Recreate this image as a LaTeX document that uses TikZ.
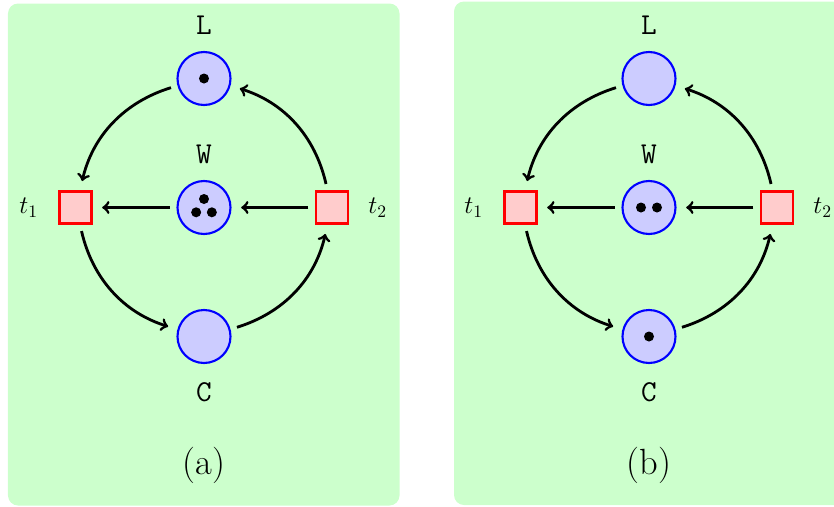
\documentclass[tikz,border=0pt]{standalone}
\usepackage{tikz}
\usetikzlibrary{positioning}

\tikzset{
  place/.style={circle, draw=blue, fill=blue!20, line width=1.2pt, minimum size=1.06cm, inner sep=0pt},
  trans/.style={rectangle, draw=red, fill=red!20, line width=1.2pt, minimum size=0.64cm, inner sep=0pt},
  flow/.style={->, line width=1.6pt, shorten <=3.8pt, shorten >=5.5pt},
  tag/.style={inner sep=0pt, font=\LARGE\ttfamily},
  tlabel/.style={inner sep=0pt, font=\Large},
  panel/.style={fill=green!20, rounded corners=0.2cm},
}

\begin{document}
\begin{tikzpicture}
  \useasboundingbox (-4.08,-5.97) rectangle (12.6,4.15);

  % background panels
  \fill[panel] (-3.92,-5.96) rectangle (3.91,4.08);
  \fill[panel] (5.0,-5.95) rectangle (12.82,4.12);

  % net (a)
  \node[place] (La) at (0,2.58) {};
  \node[place] (Wa) at (0,0) {};
  \node[place] (Ca) at (0,-2.58) {};
  \node[trans] (t1a) at (-2.57,0) {};
  \node[trans] (t2a) at (2.56,0) {};

  \node[tag, above=0.32cm of La] {L};
  \node[tag, above=0.32cm of Wa] {W};
  \node[tag, below=0.36cm of Ca] {C};
  \node[tlabel, left=0.4cm of t1a] {$t_1$};
  \node[tlabel, right=0.38cm of t2a] {$t_2$};

  % tokens (a)
  \fill (La.center) circle[radius=0.1];
  \fill ([yshift=0.17cm]Wa.center) circle[radius=0.1];
  \fill ([xshift=-0.157cm, yshift=-0.096cm]Wa.center) circle[radius=0.1];
  \fill ([xshift=0.157cm, yshift=-0.096cm]Wa.center) circle[radius=0.1];

  \draw[flow] (La) to[bend right=30] (t1a);
  \draw[flow] (t1a) to[bend right=30] (Ca);
  \draw[flow] (Ca) to[bend right=30] (t2a);
  \draw[flow] (t2a) to[bend right=30] (La);
  \draw[flow] (t2a) -- (Wa);
  \draw[flow] (Wa) -- (t1a);

  \node[font=\huge] (capa) at (0,-5.15) {(a)};

  % net (b)
  \node[place] (Lb) at (8.9,2.58) {};
  \node[place] (Wb) at (8.9,0) {};
  \node[place] (Cb) at (8.9,-2.58) {};
  \node[trans] (t1b) at (6.33,0) {};
  \node[trans] (t2b) at (11.46,0) {};

  \node[tag, above=0.32cm of Lb] {L};
  \node[tag, above=0.32cm of Wb] {W};
  \node[tag, below=0.36cm of Cb] {C};
  \node[tlabel, left=0.4cm of t1b] {$t_1$};
  \node[tlabel, right=0.38cm of t2b] {$t_2$};

  % tokens (b)
  \fill ([xshift=-0.16cm]Wb.center) circle[radius=0.1];
  \fill ([xshift=0.16cm]Wb.center) circle[radius=0.1];
  \fill (Cb.center) circle[radius=0.1];

  \draw[flow] (Lb) to[bend right=30] (t1b);
  \draw[flow] (t1b) to[bend right=30] (Cb);
  \draw[flow] (Cb) to[bend right=30] (t2b);
  \draw[flow] (t2b) to[bend right=30] (Lb);
  \draw[flow] (t2b) -- (Wb);
  \draw[flow] (Wb) -- (t1b);

  \node[font=\huge] (capb) at (8.9,-5.15) {(b)};
\end{tikzpicture}
\end{document}
